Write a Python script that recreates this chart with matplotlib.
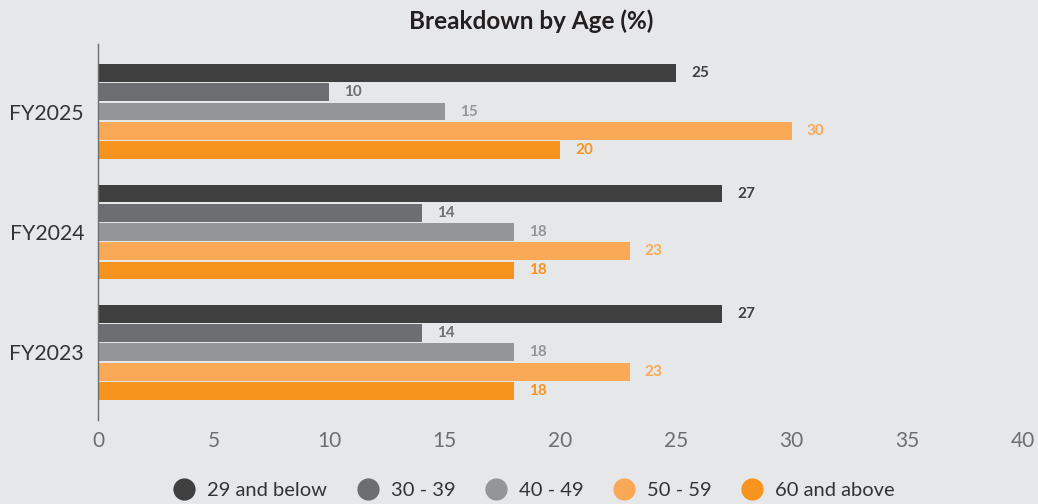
import numpy as np
import matplotlib.pyplot as plt
from matplotlib.lines import Line2D

plt.rcParams['font.family'] = ['Lato', 'DejaVu Sans']

years = ['FY2025', 'FY2024', 'FY2023']
age_groups = ['29 and below', '30 - 39', '40 - 49', '50 - 59', '60 and above']
# share per age group, one list per year
fy2025 = [25, 10, 15, 30, 20]
fy2024 = [27, 14, 18, 23, 18]
fy2023 = [27, 14, 18, 23, 18]

colors = ['#3f3f3f', '#6d6e71', '#939598', '#f9a955', '#f7941e']
bg = '#e6e7e9'

fig = plt.figure(figsize=(10.38, 5.04), dpi=100, facecolor=bg)
ax = fig.add_axes([0.0944, 0.1667, 0.8911, 0.746])
ax.set_facecolor(bg)

data = [fy2025, fy2024, fy2023]
group_gap = 6.26
centers = np.array([2, 1, 0]) * group_gap

for g, vals in enumerate(data):
    for k, v in enumerate(vals):
        y = centers[g] + (2 - k)
        ax.barh(y, v, height=0.93, color=colors[k], edgecolor='none')
        ax.text(v + 0.65, y, str(v), va='center', ha='left', fontsize=11,
                fontweight='bold', color=colors[k])

ax.set_xlim(0, 40)
ax.set_ylim(-3.51, 2 * group_gap + 3.51)
ax.set_xticks(np.arange(0, 41, 5))
ax.set_yticks(centers)
ax.set_yticklabels(years)
ax.tick_params(axis='x', length=0, pad=8, labelsize=15, labelcolor='#6d6e71')
ax.tick_params(axis='y', length=0, pad=10, labelsize=15.3, labelcolor='#333333')

for s in ['top', 'right', 'bottom']:
    ax.spines[s].set_visible(False)
ax.spines['left'].set_color('#6d6e71')
ax.spines['left'].set_linewidth(1)

fig.text(0.512, 0.958, 'Breakdown by Age (%)', ha='center', va='center',
         fontsize=17.5, fontweight='bold', color='#231f20')

handles = [Line2D([], [], marker='o', linestyle='none', markersize=16,
                  markerfacecolor=c, markeredgecolor='none') for c in colors]
fig.legend(handles, age_groups, loc='center', bbox_to_anchor=(0.51, 0.027),
           ncol=5, frameon=False, fontsize=14.5, handletextpad=0.15,
           columnspacing=1.0, labelcolor='#333333')

fig.savefig('out.png', dpi=100, facecolor=bg)
